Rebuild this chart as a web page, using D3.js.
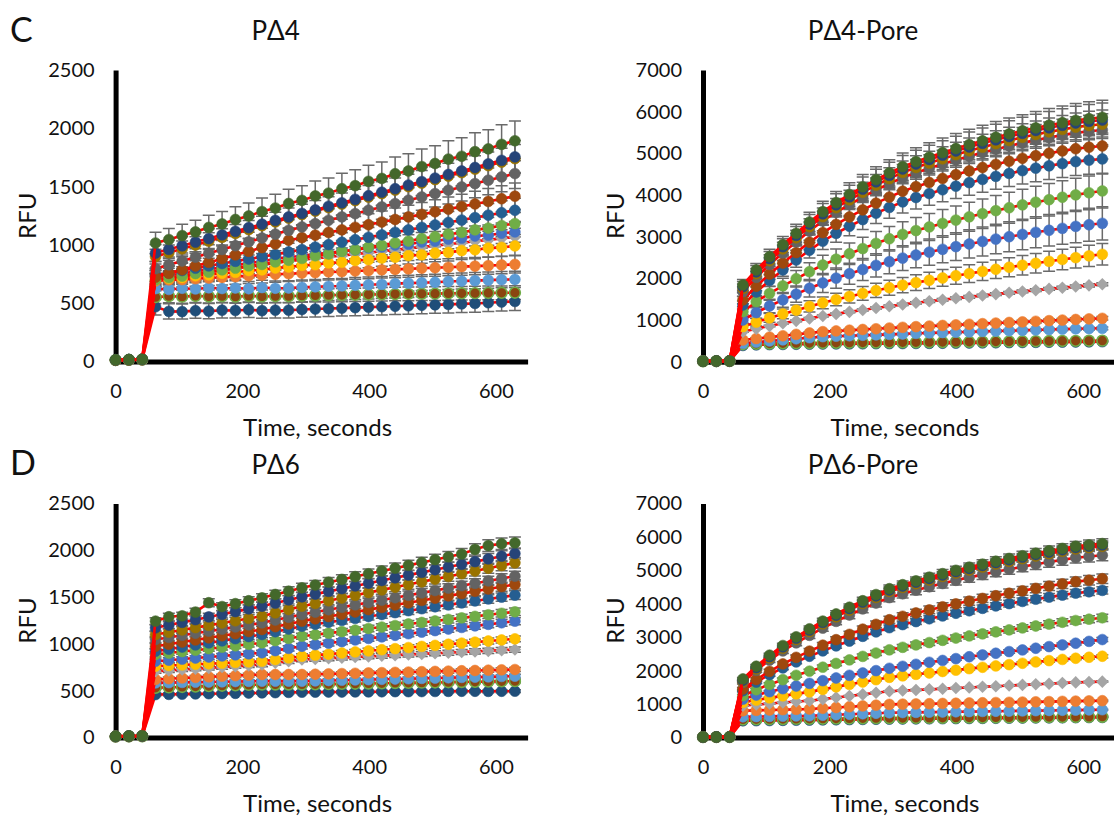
<!DOCTYPE html>
<html>
<head>
<meta charset="utf-8">
<title>RFU kinetics</title>
<script src="https://cdn.jsdelivr.net/npm/d3@7"></script>
<style>
    body{ margin:0; background:#fff; }
    text{ font-family: Lato, "Open Sans", sans-serif; font-weight:400; fill:#111; }
    .tick text{ font-size:20px; }
    .domain{ stroke:#000; stroke-width:5; }
    .err{ stroke:#6a6a6a; stroke-width:1.5; fill:none; }
    .trace{ fill:none; stroke:#ff0000; stroke-width:2.6; stroke-linejoin:round; }
    .atitle{ font-size:24px; }
    .ptitle{ font-size:26px; }
    .letter{ font-size:34px; }
</style>
</head>
<body>
<script>
// sampling times (s)
const times = [0,21,42,63,84,105,126,147,168,189,210,231,252,273,294,315,336,357,378,399,420,441,462,483,504,525,546,567,588,609,630]

// series, in drawing order (last one ends on top)
const seriesKeys = ["bottom","ring","lightBlue","orange","gray","gold","blue","green","steel","brown","darkGray","darkGold","navy","darkGreen"]

// PΔ4
const pD4 = [
    [11,13,15, 470,430,428,436,432,440,438,444,436,440,440,446,450,454,458,462,466,470,474,478,482,486,490,494,498,504,510,515],
    [12,14,16, 552,560,556,562,558,560,556,562,558,560,560,564,566,568,570,572,574,576,578,580,581,582,584,585,586,588,589,590],
    [11,13,15, 625,618,628,622,632,626,630,624,634,628,630,636,640,645,648,654,658,662,668,672,676,680,686,690,694,698,702,704],
    [12,15,17, 690,700,702,710,716,722,728,735,740,748,753,758,762,768,770,776,780,786,790,794,800,804,808,814,818,822,828,833],
    [13,15,16, 700,716,733,748,765,780,797,812,828,845,860,872,884,897,909,921,933,945,957,970,982,994,1006,1019,1031,1043,1056,1068],
    [12,14,17, 700,714,720,735,743,757,764,780,786,802,810,824,830,845,851,866,873,887,894,908,915,930,936,951,958,972,979,991],
    [14,16,18, 720,741,752,775,788,810,824,845,858,880,896,905,924,931,948,956,975,982,999,1006,1025,1032,1050,1058,1076,1083,1100,1111],
    [13,16,18, 700,720,732,754,766,786,800,820,832,854,868,884,907,922,944,958,981,996,1018,1033,1055,1070,1092,1107,1129,1144,1166,1183],
    [13,16,18, 740,760,780,800,820,840,859,879,899,919,939,960,981,1002,1023,1044,1065,1086,1108,1129,1150,1171,1192,1213,1234,1255,1276,1297],
    [12,15,17, 724,756,787,819,850,882,914,945,977,1008,1040,1062,1084,1107,1129,1151,1173,1196,1218,1240,1262,1284,1307,1329,1351,1373,1396,1418],
    [13,15,18, 796,829,862,895,928,960,993,1026,1059,1092,1125,1154,1182,1211,1240,1268,1297,1326,1354,1383,1411,1440,1469,1497,1526,1555,1583,1612],
    [12,14,17, 900,933,966,999,1032,1065,1098,1131,1164,1197,1230,1260,1290,1320,1350,1380,1410,1440,1470,1500,1530,1560,1590,1620,1650,1680,1710,1740],
    [14,16,19, 930,962,992,1024,1054,1086,1116,1148,1178,1210,1240,1270,1300,1331,1361,1391,1422,1452,1482,1513,1543,1573,1604,1634,1664,1695,1725,1755],
    [15,17,20, 1016,1046,1080,1112,1150,1180,1218,1248,1286,1316,1355,1382,1420,1444,1482,1508,1545,1570,1610,1634,1672,1698,1736,1760,1800,1824,1862,1893]
]
const pD4Cv = [0.15,0.1,0.1,0.09,0.07,0.08,0.08,0.08,0.08,0.08,0.08,0.07,0.08,0.09]

// PΔ4-Pore
const pD4Pore = [
    [9,11,13, 390,404,410,414,418,420,424,426,428,430,432,434,436,438,440,443,446,449,452,455,458,461,464,467,470,473,476,480],
    [10,12,14, 420,430,436,440,444,446,450,452,455,458,460,462,464,466,468,471,474,477,480,483,486,489,492,495,498,500,503,505],
    [10,12,14, 441,470,498,524,550,576,601,612,623,634,644,655,665,681,690,699,708,717,726,735,744,753,762,771,780,789,795,801],
    [10,12,15, 521,555,590,622,656,690,721,738,756,773,790,808,825,841,855,870,884,898,913,927,942,956,970,985,999,1013,1027,1041],
    [11,13,15, 721,793,858,921,980,1039,1096,1147,1196,1242,1289,1332,1374,1413,1449,1485,1521,1555,1589,1622,1654,1686,1716,1747,1776,1805,1832,1857],
    [11,13,16, 841,950,1051,1147,1237,1327,1414,1492,1567,1638,1709,1775,1839,1898,1954,2009,2063,2115,2167,2218,2266,2315,2362,2409,2454,2497,2539,2577],
    [12,14,16, 1001,1177,1337,1484,1623,1762,1890,2006,2112,2212,2312,2400,2486,2560,2630,2697,2762,2825,2885,2943,2999,3054,3105,3154,3200,3247,3286,3321],
    [12,14,17, 1200,1440,1640,1820,1990,2160,2320,2460,2590,2715,2840,2950,3055,3147,3234,3318,3399,3477,3552,3625,3694,3764,3828,3888,3946,4004,4053,4097],
    [12,15,17, 1361,1673,1950,2202,2440,2675,2892,3081,3250,3411,3565,3702,3835,3940,4035,4126,4213,4297,4374,4448,4518,4585,4644,4700,4753,4802,4837,4865],
    [13,15,18, 1481,1810,2102,2368,2619,2867,3096,3296,3473,3643,3806,3950,4090,4201,4301,4397,4490,4578,4660,4737,4811,4881,4944,5003,5059,5111,5148,5177],
    [13,16,18, 1680,2025,2332,2611,2875,3135,3376,3586,3772,3950,4121,4273,4420,4536,4641,4742,4839,4932,5018,5099,5177,5251,5317,5378,5437,5491,5530,5561],
    [14,16,19, 1760,2111,2422,2706,2974,3238,3482,3695,3884,4065,4238,4392,4542,4660,4766,4869,4967,5062,5148,5231,5310,5385,5452,5515,5574,5629,5668,5700],
    [14,17,19, 1800,2156,2472,2760,3032,3300,3548,3764,3956,4140,4316,4472,4624,4744,4852,4956,5056,5152,5240,5324,5404,5480,5548,5612,5672,5728,5768,5800],
    [15,18,20, 1841,2201,2520,2810,3080,3350,3601,3816,4011,4196,4371,4531,4681,4801,4911,5016,5116,5211,5301,5386,5466,5541,5611,5676,5736,5791,5831,5865]
]
const pD4PoreCv = [0.03,0.03,0.04,0.04,0.02,0.1,0.12,0.1,0.07,0.06,0.07,0.06,0.07,0.07]

// PΔ6
const pD6 = [
    [9,11,13, 459,461,463,466,468,470,472,475,477,479,482,484,485,486,486,487,488,489,490,490,491,492,493,494,494,493,494,495],
    [9,11,13, 531,535,540,544,549,553,557,562,566,566,566,566,568,570,573,575,577,579,582,584,586,588,591,593,595,597,600,602],
    [10,12,14, 584,586,589,591,593,595,598,600,602,602,602,602,605,609,612,615,618,622,625,628,632,635,638,642,645,648,652,655],
    [10,12,14, 620,628,636,642,648,655,661,667,673,673,673,673,676,680,683,686,690,693,696,699,703,706,709,713,716,719,723,726],
    [10,12,15, 708,717,726,735,744,753,762,771,780,798,815,833,840,846,853,860,866,873,880,886,893,900,906,913,920,926,933,940],
    [11,13,15, 762,769,775,782,788,795,802,808,815,833,850,868,880,891,903,914,926,938,949,961,973,984,996,1008,1019,1031,1042,1054],
    [11,13,16, 815,826,838,849,860,871,883,894,905,928,952,975,992,1008,1025,1042,1059,1075,1092,1109,1126,1142,1159,1176,1193,1209,1226,1243],
    [11,14,16, 887,902,918,933,949,965,980,996,1011,1035,1058,1082,1098,1115,1131,1147,1164,1180,1196,1213,1229,1245,1262,1278,1294,1311,1327,1343],
    [12,14,16, 922,944,967,989,1011,1033,1056,1078,1100,1130,1159,1189,1210,1231,1251,1272,1293,1314,1334,1355,1376,1397,1417,1438,1459,1480,1500,1521],
    [12,14,17, 975,997,1020,1042,1065,1087,1109,1132,1154,1184,1213,1243,1268,1292,1317,1341,1366,1390,1415,1439,1464,1488,1513,1537,1562,1586,1611,1635],
    [12,15,17, 1047,1069,1092,1114,1136,1158,1181,1203,1225,1255,1284,1314,1340,1365,1391,1417,1442,1468,1493,1519,1545,1570,1596,1622,1647,1673,1698,1724],
    [13,15,18, 1100,1125,1149,1174,1198,1223,1247,1272,1296,1332,1367,1403,1432,1461,1490,1519,1548,1577,1605,1634,1663,1692,1721,1750,1779,1808,1837,1866],
    [13,16,18, 1172,1201,1230,1259,1288,1316,1345,1374,1403,1436,1470,1503,1532,1561,1590,1619,1648,1677,1706,1735,1764,1792,1821,1850,1879,1908,1937,1966],
    [14,16,19, 1243,1290,1300,1340,1440,1399,1430,1461,1492,1528,1563,1599,1629,1659,1689,1719,1749,1779,1809,1839,1870,1900,1930,1960,2010,2050,2070,2080]
]
const pD6Cv = [0.03,0.03,0.03,0.03,0.03,0.03,0.03,0.03,0.03,0.03,0.03,0.03,0.03,0.03]

// PΔ6-Pore
const pD6Pore = [
    [9,11,13, 500,504,508,513,517,521,526,531,536,541,546,551,554,557,560,563,566,569,572,575,579,582,585,588,591,594,597,600],
    [10,12,14, 540,544,548,552,556,560,563,567,570,573,577,580,582,585,587,590,592,595,597,600,602,605,607,610,612,615,617,620],
    [10,12,14, 620,626,632,639,645,651,666,681,696,711,726,741,747,752,758,763,769,775,780,786,791,797,803,808,814,819,825,831],
    [10,12,15, 800,812,822,832,842,851,874,897,920,944,967,990,997,1004,1011,1018,1025,1032,1039,1046,1053,1060,1067,1074,1081,1088,1095,1101],
    [11,13,15, 950,985,1015,1045,1075,1100,1148,1196,1243,1290,1338,1385,1404,1423,1441,1460,1479,1498,1516,1535,1554,1573,1591,1610,1629,1648,1660,1671],
    [11,13,16, 1050,1120,1185,1245,1305,1365,1440,1515,1590,1660,1730,1800,1845,1890,1930,1975,2015,2060,2100,2140,2180,2220,2260,2300,2335,2370,2400,2430],
    [12,14,16, 1150,1270,1370,1460,1540,1620,1700,1780,1860,1930,2000,2070,2130,2190,2250,2305,2360,2415,2470,2520,2570,2620,2670,2720,2770,2820,2875,2930],
    [12,14,17, 1250,1429,1588,1730,1861,1984,2103,2215,2322,2427,2527,2623,2698,2770,2840,2907,2975,3038,3101,3161,3220,3278,3336,3392,3446,3499,3539,3581],
    [12,15,17, 1400,1658,1880,2081,2261,2429,2591,2741,2885,3027,3159,3285,3378,3468,3552,3636,3717,3792,3864,3936,4005,4071,4137,4200,4260,4320,4359,4401],
    [13,15,18, 1451,1735,1979,2200,2398,2583,2761,2926,3085,3240,3385,3523,3626,3725,3817,3910,3999,4081,4160,4240,4315,4388,4461,4530,4596,4662,4705,4751],
    [13,16,18, 1650,2007,2315,2589,2832,3056,3273,3474,3665,3847,4022,4185,4299,4406,4508,4607,4702,4790,4873,4957,5033,5109,5181,5250,5314,5379,5413,5451],
    [14,16,19, 1680,2050,2380,2670,2930,3170,3400,3610,3810,4010,4190,4370,4490,4600,4710,4820,4920,5010,5100,5190,5270,5350,5430,5500,5570,5640,5680,5720],
    [14,17,19, 1711,2091,2421,2711,2971,3211,3441,3656,3856,4051,4236,4411,4531,4646,4756,4861,4961,5056,5146,5233,5316,5396,5473,5546,5616,5683,5723,5761],
    [15,18,20, 1751,2131,2461,2751,3011,3251,3481,3696,3896,4091,4276,4451,4571,4686,4796,4901,5001,5096,5186,5273,5356,5436,5513,5586,5656,5723,5763,5801]
]
const pD6PoreCv = [0.02,0.02,0.02,0.02,0.01,0.02,0.02,0.03,0.025,0.03,0.03,0.02,0.02,0.025]

// marker styles (Excel office palette)
const markerFill = {bottom:"#1f4e79", ring:"#8a4510", lightBlue:"#5b9bd5", orange:"#ed7d31", gray:"#a5a5a5", gold:"#ffc000",
    blue:"#4472c4", green:"#70ad47", steel:"#255e91", brown:"#9e480e", darkGray:"#636363", darkGold:"#997300", navy:"#264478", darkGreen:"#43682b"}
const markerEdge = Object.assign({}, markerFill, {ring:"#70ad47"})

let w = 1114
let h = 818
let svg = d3.select("body").append("svg").attr("width", w).attr("height", h)

let panels = [
    {letter:"C", title:"PΔ4", rows:pD4, cv:pD4Cv, yMax:2500, yStep:500, left:115.6, bottom:361.5, top:70},
    {letter:"",  title:"PΔ4-Pore", rows:pD4Pore, cv:pD4PoreCv, yMax:7000, yStep:1000, left:703, bottom:361.7, top:70},
    {letter:"D", title:"PΔ6", rows:pD6, cv:pD6Cv, yMax:2500, yStep:500, left:115.6, bottom:737.5, top:503.5},
    {letter:"",  title:"PΔ6-Pore", rows:pD6Pore, cv:pD6PoreCv, yMax:7000, yStep:1000, left:703, bottom:737.5, top:503.5}
]

let diamond = "M0,-6.3L6.3,0L0,6.3L-6.3,0Z"

for (let p of panels){
    let x = d3.scaleLinear().domain([0,650]).range([p.left, p.left+412])
    let y = d3.scaleLinear().domain([0,p.yMax]).range([p.bottom, p.top])
    let g = svg.append("g")

    // axes
    g.append("g")
        .attr("transform","translate(0,"+p.bottom+")")
        .call(d3.axisBottom(x).tickValues([0,200,400,600]).tickSize(0).tickPadding(22).tickFormat(d3.format("d")))
    g.append("g")
        .attr("transform","translate("+p.left+",0)")
        .call(d3.axisLeft(y).tickValues(d3.range(0,p.yMax+1,p.yStep)).tickSize(0).tickPadding(21).tickFormat(d3.format("d")))
    g.selectAll(".domain").attr("stroke","#000")

    // titles
    let cx = (p.left + p.left+412)/2
    g.append("text").attr("class","ptitle").attr("x",p.left+160).attr("y",p.top-40)
        .attr("text-anchor","middle").attr("dominant-baseline","central").text(p.title)
    g.append("text").attr("class","atitle").attr("x",cx-4).attr("y",p.bottom+65)
        .attr("text-anchor","middle").attr("dominant-baseline","central").text("Time, seconds")
    g.append("text").attr("class","atitle")
        .attr("transform","translate("+(p.left-89)+","+((p.top+p.bottom)/2)+") rotate(-90)")
        .attr("text-anchor","middle").attr("dominant-baseline","central").text("RFU")
    if (p.letter){
        g.append("text").attr("class","letter").attr("x",10).attr("y",p.top-42)
            .attr("dominant-baseline","central").text(p.letter)
    }

    // error bars
    let eg = g.append("g")
    p.rows.forEach((row,si)=>{
        row.forEach((v,i)=>{
            if (i < 3) return
            let e = v*p.cv[si]
            let px = x(times[i])
            eg.append("path").attr("class","err")
                .attr("d","M"+px+","+y(v-e)+"V"+y(v+e)+"M"+(px-6)+","+y(v-e)+"H"+(px+6)+"M"+(px-6)+","+y(v+e)+"H"+(px+6))
        })
    })

    // traces + markers
    let line = d3.line().x((d,i)=>x(times[i])).y(d=>y(d))
    p.rows.forEach((row,si)=>{
        let key = seriesKeys[si]
        g.append("path").datum(row).attr("class","trace").attr("d",line)
        let mg = g.append("g")
        row.forEach((v,i)=>{
            if (key == "gray"){
                mg.append("path").attr("d",diamond)
                    .attr("transform","translate("+x(times[i])+","+y(v)+")")
                    .attr("fill",markerFill[key])
            } else {
                mg.append("circle").attr("cx",x(times[i])).attr("cy",y(v)).attr("r",5.4)
                    .attr("fill",markerFill[key])
                    .attr("stroke",markerEdge[key]).attr("stroke-width",key=="ring"?1.6:0.6)
            }
        })
    })
}
</script>
</body>
</html>
